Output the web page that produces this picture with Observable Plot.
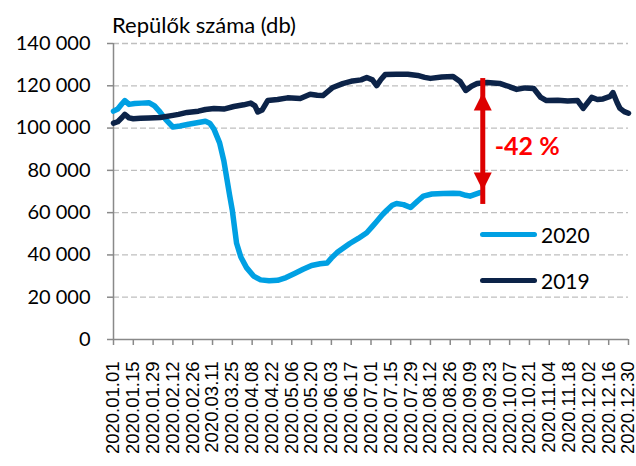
<!DOCTYPE html>
<html><head><meta charset="utf-8">
<script src="https://cdn.jsdelivr.net/npm/d3@7"></script>
<script src="https://cdn.jsdelivr.net/npm/@observablehq/plot@0.6"></script>
<style>
body{margin:0;background:#fff;}
#wrap{position:relative;width:636px;height:466px;overflow:hidden;background:#fff;}
.title{position:absolute;left:112px;top:14px;font-family:Lato;font-size:22px;line-height:1;color:#000;white-space:nowrap;}
.leg{position:absolute;height:24px;font-family:Lato;font-size:21px;line-height:1;display:flex;align-items:center;color:#000;}
.leg .sw{display:inline-block;width:57px;height:5px;border-radius:3px;margin-right:4px;}
</style></head><body>
<div id="wrap">
  <div class="title" id="title"></div>
</div>
<script>
const titleText = "Repülők száma (db)";
const seriesNames = ["2020", "2019"];
const seriesColors = ["#00A0E3", "#0C2348"];

const dates2020 = ["01-01","01-04","01-07","01-09","01-12","01-16","01-21","01-26","01-30","02-02","02-07","02-12","02-17","02-23","03-01","03-06","03-09","03-12","03-16","03-19","03-21","03-23","03-25","03-28","03-31","04-04","04-09","04-14","04-20","04-26","05-02","05-08","05-14","05-20","05-26","05-31","06-03","06-07","06-12","06-16","06-22","06-28","07-02","07-05","07-09","07-12","07-16","07-19","07-24","07-29","08-03","08-07","08-13","08-21","08-28","09-02","09-06","09-09","09-12","09-16"];
const values2020 = [108000,109000,111500,113000,111200,111600,111800,112000,110500,108300,104000,100500,101000,101800,102600,103200,102300,99500,93000,84500,76500,68500,61000,45500,39000,34000,30000,28200,27800,28000,29300,31200,33200,35000,35800,36200,38500,41100,43500,45400,47800,50500,53500,55800,59000,61000,63500,64300,63800,62400,65500,67800,68800,69100,69200,69000,68200,67800,68500,69500];

const dates2019 = ["01-01","01-04","01-07","01-09","01-12","01-15","01-20","01-26","02-03","02-12","02-16","02-22","03-01","03-06","03-12","03-19","03-26","04-02","04-07","04-10","04-12","04-15","04-19","04-26","05-03","05-12","05-19","05-24","05-28","06-04","06-11","06-18","06-24","06-28","07-02","07-05","07-08","07-11","07-19","07-27","08-03","08-08","08-12","08-20","08-28","09-02","09-06","09-10","09-14","09-21","09-30","10-05","10-12","10-18","10-24","10-29","11-02","11-10","11-17","11-24","11-28","12-04","12-08","12-12","12-17","12-19","12-22","12-24","12-27","12-30"];
const values2019 = [102300,103000,105000,106500,104800,104400,104600,104800,105000,106000,106500,107400,108000,108800,109300,109000,110200,111000,111800,110500,107600,108500,113000,113500,114300,114000,116000,115500,115400,119200,121000,122300,122800,123900,122800,120100,123000,125300,125400,125500,124900,124000,123500,124200,124400,122000,117800,119800,121100,121600,121100,120000,118300,119000,118700,114500,113000,113200,112800,113000,109300,114500,113500,113800,115000,116800,112000,109300,107800,107000];

const xTickLabels = ["2020.01.01","2020.01.15","2020.01.29","2020.02.12","2020.02.26","2020.03.11","2020.03.25","2020.04.08","2020.04.22","2020.05.06","2020.05.20","2020.06.03","2020.06.17","2020.07.01","2020.07.15","2020.07.29","2020.08.12","2020.08.26","2020.09.09","2020.09.23","2020.10.07","2020.10.21","2020.11.04","2020.11.18","2020.12.02","2020.12.16","2020.12.30"];
const yTicks = [0,20000,40000,60000,80000,100000,120000,140000];

const arrowDate = "09-18";
const arrowHigh = 116800;
const arrowLow = 70500;
const arrowLabel = "-42 %";

const parse = s => new Date(Date.UTC(2020, +s.slice(0,2)-1, +s.slice(3,5)));
const parseTick = s => new Date(Date.UTC(+s.slice(0,4), +s.slice(5,7)-1, +s.slice(8,10)));
const d2020 = dates2020.map((d,i)=>({date:parse(d), value:values2020[i]}));
const d2019 = dates2019.map((d,i)=>({date:parse(d), value:values2019[i]}));
const tickDates = xTickLabels.map(parseTick);
const arrowData = [{date:parse(arrowDate), low:arrowLow, high:arrowHigh}];

const HW = 9, HH = 18;
const headUp = {draw(c){ c.moveTo(0,0); c.lineTo(-HW, HH); c.lineTo(HW, HH); c.closePath(); }};
const headDown = {draw(c){ c.moveTo(0,0); c.lineTo(-HW, -HH); c.lineTo(HW, -HH); c.closePath(); }};
const fmt = d => d3.format(",")(d).replace(/,/g, "\u00a0");
const axisGray = "#898989";

const chart = Plot.plot({
  width: 636, height: 466,
  marginTop: 43, marginBottom: 127, marginLeft: 113, marginRight: 8,
  style: {background: "transparent", overflow: "visible"},
  x: {type: "utc", domain: [tickDates[0], tickDates[tickDates.length-1]]},
  y: {domain: [0, 140000]},
  marks: [
    Plot.gridY(yTicks.filter(d => d > 0), {stroke: "#BFBFBF", strokeOpacity: 1, strokeDasharray: "6,3", strokeWidth: 1.3}),
    Plot.axisY(yTicks, {tickSize: 6, tickPadding: 17, tickFormat: fmt, fontSize: 20, fontFamily: "Lato", stroke: axisGray, fill: "#000", strokeWidth: 1.5, label: null}),
    Plot.axisX(tickDates, {tickSize: 6, tickPadding: 16, tickRotate: -90, tickFormat: d3.utcFormat("%Y.%m.%d"), fontSize: 18.5, fontFamily: "Liberation Sans", stroke: axisGray, fill: "#000", strokeWidth: 1.5, label: null}),
    Plot.ruleX([tickDates[0]], {y1: 0, y2: 140000, stroke: axisGray, strokeWidth: 1.5}),
    Plot.ruleY([0], {stroke: axisGray, strokeWidth: 1.5}),
    Plot.lineY(d2020, {x: "date", y: "value", stroke: seriesColors[0], strokeWidth: 5.5, strokeLinejoin: "round", strokeLinecap: "round"}),
    Plot.lineY(d2019, {x: "date", y: "value", stroke: seriesColors[1], strokeWidth: 5.5, strokeLinejoin: "round", strokeLinecap: "round"}),
    Plot.ruleX(arrowData, {x: "date", y1: "low", y2: "high", stroke: "#DD0000", strokeWidth: 5, insetTop: 14, insetBottom: 14}),
    Plot.dot(arrowData, {x: "date", y: "high", symbol: headUp, r: 9, fill: "#DD0000", stroke: null}),
    Plot.dot(arrowData, {x: "date", y: "low", symbol: headDown, r: 9, fill: "#DD0000", stroke: null}),
    Plot.text(arrowData, {x: "date", y: d => (d.low + d.high) / 2, text: () => arrowLabel, dx: 12, dy: 6, textAnchor: "start", fill: "#FF0000", fontWeight: "bold", fontSize: 25, fontFamily: "Lato"})
  ]
});
const wrap = document.getElementById("wrap");
wrap.insertBefore(chart, wrap.firstChild);
chart.style.position = "absolute"; chart.style.left = "0"; chart.style.top = "0";
document.getElementById("title").textContent = titleText;
const legendPos = [{left: 480, top: 222}, {left: 480, top: 268}];
seriesNames.forEach((n, i) => {
  const div = document.createElement("div");
  div.className = "leg";
  div.style.left = legendPos[i].left + "px";
  div.style.top = legendPos[i].top + "px";
  div.innerHTML = `<span class="sw" style="background:${seriesColors[i]}"></span><span>${n}</span>`;
  wrap.appendChild(div);
});
</script>
</body></html>
